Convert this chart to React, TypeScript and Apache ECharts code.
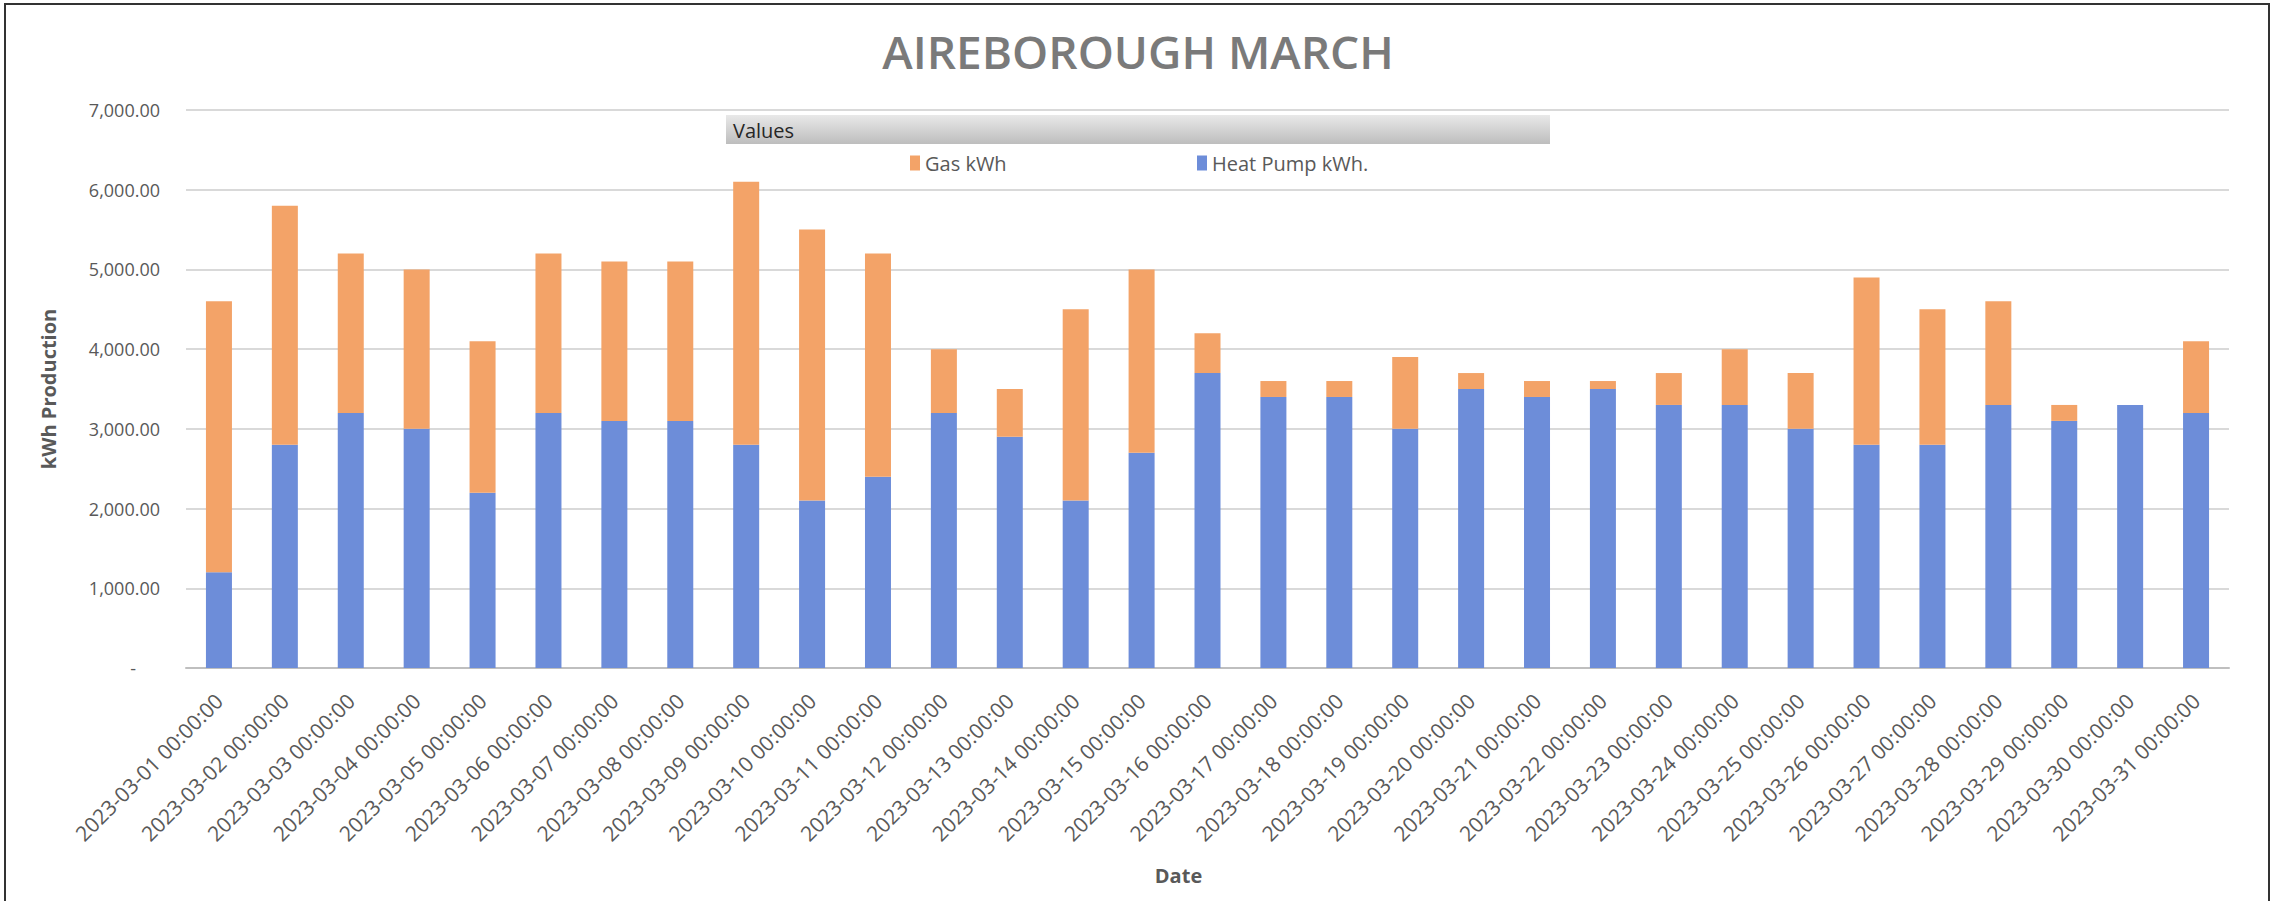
import React, { useEffect, useRef } from "react";
import * as echarts from "echarts";

const dates = [
  "2023-03-01 00:00:00", "2023-03-02 00:00:00", "2023-03-03 00:00:00", "2023-03-04 00:00:00",
  "2023-03-05 00:00:00", "2023-03-06 00:00:00", "2023-03-07 00:00:00", "2023-03-08 00:00:00",
  "2023-03-09 00:00:00", "2023-03-10 00:00:00", "2023-03-11 00:00:00", "2023-03-12 00:00:00",
  "2023-03-13 00:00:00", "2023-03-14 00:00:00", "2023-03-15 00:00:00", "2023-03-16 00:00:00",
  "2023-03-17 00:00:00", "2023-03-18 00:00:00", "2023-03-19 00:00:00", "2023-03-20 00:00:00",
  "2023-03-21 00:00:00", "2023-03-22 00:00:00", "2023-03-23 00:00:00", "2023-03-24 00:00:00",
  "2023-03-25 00:00:00", "2023-03-26 00:00:00", "2023-03-27 00:00:00", "2023-03-28 00:00:00",
  "2023-03-29 00:00:00", "2023-03-30 00:00:00", "2023-03-31 00:00:00",
];

const heatPumpKWh = [
  1200, 2800, 3200, 3000, 2200, 3200, 3100, 3100, 2800, 2100, 2400, 3200, 2900, 2100, 2700, 3700,
  3400, 3400, 3000, 3500, 3400, 3500, 3300, 3300, 3000, 2800, 2800, 3300, 3100, 3300, 3200,
];

const gasKWh = [
  3400, 3000, 2000, 2000, 1900, 2000, 2000, 2000, 3300, 3400, 2800, 800, 600, 2400, 2300, 500,
  200, 200, 900, 200, 200, 100, 400, 700, 700, 2100, 1700, 1300, 200, 0, 900,
];

const titleText = "AIREBOROUGH MARCH";
const legendHeader = "Values";
const gasName = "Gas kWh";
const hpName = "Heat Pump kWh.";
const yAxisName = "kWh Production";
const xAxisName = "Date";

const FONT = "'Open Sans', 'Noto Sans', sans-serif";
const ORANGE = "#F3A368";
const BLUE = "#6D8DD9";

function fmt(v: number): string {
  if (v === 0) return "{d|-}";
  return v.toLocaleString("en-US", { minimumFractionDigits: 2, maximumFractionDigits: 2 });
}

export default function App() {
  const ref = useRef<HTMLDivElement>(null);

  useEffect(() => {
    if (!ref.current) return;
    const chart = echarts.init(ref.current, undefined, { renderer: "svg" });
    const legendText = { fontFamily: FONT, fontSize: 20, color: "#595959" };
    chart.setOption({
      animation: false,
      backgroundColor: "#ffffff",
      grid: { left: 186, right: 47, top: 110, bottom: 233, containLabel: false },
      legend: [
        {
          data: [gasName],
          left: 910,
          top: 153,
          padding: 0,
          icon: "rect",
          itemWidth: 10,
          itemHeight: 15,
          textStyle: legendText,
          selectedMode: false,
        },
        {
          data: [hpName],
          left: 1197,
          top: 153,
          padding: 0,
          icon: "rect",
          itemWidth: 10,
          itemHeight: 15,
          textStyle: legendText,
          selectedMode: false,
        },
      ],
      xAxis: {
        type: "category",
        data: dates,
        name: xAxisName,
        nameLocation: "middle",
        nameGap: 197,
        nameTextStyle: {
          fontFamily: FONT,
          fontSize: 20,
          fontWeight: "bold",
          color: "#595959",
          padding: [0, 58, 0, 0],
        },
        axisLine: { show: true, lineStyle: { color: "#bfbfbf", width: 2 } },
        axisTick: { show: false },
        axisLabel: {
          rotate: 45,
          interval: 0,
          margin: 29,
          fontFamily: FONT,
          fontSize: 21,
          color: "#595959",
        },
      },
      yAxis: {
        type: "value",
        min: 0,
        max: 7000,
        interval: 1000,
        name: yAxisName,
        nameLocation: "middle",
        nameGap: 128,
        nameRotate: 90,
        nameTextStyle: { fontFamily: FONT, fontSize: 20, fontWeight: "bold", color: "#595959" },
        axisLine: { show: false },
        axisTick: { show: false },
        splitLine: { lineStyle: { color: "#d9d9d9", width: 2 } },
        axisLabel: {
          margin: 26,
          fontFamily: FONT,
          fontSize: 18,
          color: "#595959",
          formatter: (v: number) => fmt(v),
          rich: { d: { fontFamily: FONT, fontSize: 18, color: "#595959", padding: [0, 24, 0, 0] } },
        },
      },
      series: [
        {
          name: hpName,
          type: "bar",
          stack: "total",
          data: heatPumpKWh,
          barWidth: 26,
          itemStyle: { color: BLUE },
        },
        {
          name: gasName,
          type: "bar",
          stack: "total",
          data: gasKWh,
          barWidth: 26,
          itemStyle: { color: ORANGE },
        },
      ],
      graphic: [
        {
          type: "rect",
          silent: true,
          shape: { x: 5, y: 4, width: 2264, height: 920 },
          style: { fill: "none", stroke: "#333333", lineWidth: 2 },
        },
        {
          type: "text",
          silent: true,
          x: 1138,
          y: 51,
          style: {
            text: titleText,
            fontFamily: FONT,
            fontSize: 46,
            fontWeight: 600,
            fill: "#7a7a7a",
            align: "center",
            verticalAlign: "middle",
          },
        },
        {
          type: "rect",
          silent: true,
          shape: { x: 726, y: 115, width: 824, height: 29 },
          style: {
            fill: new echarts.graphic.LinearGradient(0, 0, 0, 1, [
              { offset: 0, color: "#e9e9e9" },
              { offset: 1, color: "#bdbdbd" },
            ]),
          },
        },
        {
          type: "text",
          silent: true,
          x: 733,
          y: 130,
          style: {
            text: legendHeader,
            fontFamily: FONT,
            fontSize: 20,
            fill: "#262626",
            align: "left",
            verticalAlign: "middle",
          },
        },
      ],
    });
    return () => chart.dispose();
  }, []);

  return (
    <div
      ref={ref}
      style={{ position: "fixed", left: 0, top: 0, width: 2276, height: 901 }}
    />
  );
}
